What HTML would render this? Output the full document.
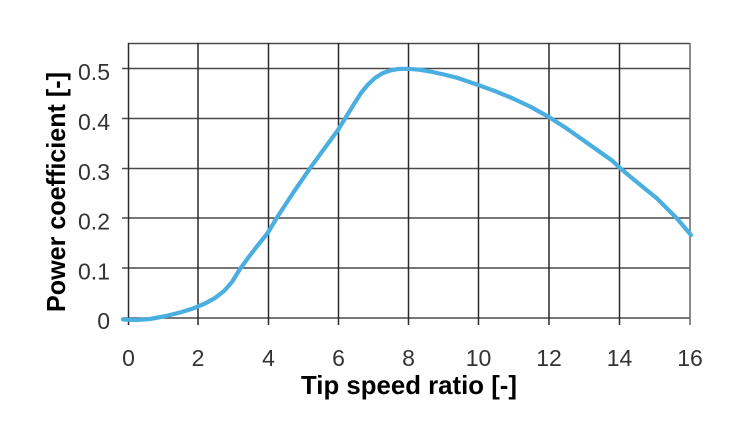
<!DOCTYPE html>
<html>
<head>
<meta charset="utf-8">
<style>
  html,body{margin:0;padding:0;background:#fff;}
  svg{display:block;}
  text{font-family:"Liberation Sans",sans-serif;}
</style>
</head>
<body>
<svg width="734" height="427" viewBox="0 0 734 427" xmlns="http://www.w3.org/2000/svg">
  <rect width="734" height="427" fill="#fff"/>
  <!-- horizontal grid -->
  <g stroke="#4a4a4a" stroke-width="1.6">
    <line x1="128" y1="43.5" x2="690" y2="43.5"/>
    <line x1="122" y1="68.5" x2="690" y2="68.5"/>
    <line x1="122" y1="118.5" x2="690" y2="118.5"/>
    <line x1="122" y1="168.5" x2="690" y2="168.5"/>
    <line x1="122" y1="218" x2="690" y2="218"/>
    <line x1="122" y1="268" x2="690" y2="268"/>
    <line x1="122" y1="318" x2="690" y2="318"/>
  </g>
  <!-- vertical grid -->
  <g stroke="#2a2a2a" stroke-width="1.5">
    <line x1="128.5" y1="43" x2="128.5" y2="325"/>
    <line x1="198" y1="43" x2="198" y2="325"/>
    <line x1="268.5" y1="43" x2="268.5" y2="325"/>
    <line x1="338.5" y1="43" x2="338.5" y2="325"/>
    <line x1="408.5" y1="43" x2="408.5" y2="325"/>
    <line x1="478.5" y1="43" x2="478.5" y2="325"/>
    <line x1="549" y1="43" x2="549" y2="325"/>
    <line x1="619.5" y1="43" x2="619.5" y2="325"/>
    <line x1="690" y1="43" x2="690" y2="325" stroke="#666"/>
  </g>
  <!-- curve -->
  <polyline fill="none" stroke="#4aaee0" stroke-width="4.2" stroke-linejoin="round" stroke-linecap="round"
    points="123,319.5 135,320 150,319 166,316 180,312.5 193,308.5 205,303.5 215,298 224,291 232,282 240,269 248,258 258,245 267.7,233 276.7,218 293,193 310,168.3 324,149 338,130 346,117 354,104 361,93 368,84.5 375,78 382,73.5 390,70.5 398,69 408,68.8 420,69.8 430,71.5 444,74.5 457,77.8 468,81.5 478.3,85 496,91.5 513,98.5 530,106.5 548,116.5 566,128 583,140 600,152 612,160.5 620,168 638,183 657,198.5 677,218.5 691,235"/>
  <!-- y tick labels -->
  <g font-size="23" fill="#333" text-anchor="end">
    <text x="110" y="80">0.5</text>
    <text x="110" y="130">0.4</text>
    <text x="110" y="180">0.3</text>
    <text x="110" y="229.5">0.2</text>
    <text x="110" y="279.5">0.1</text>
    <text x="110" y="329">0</text>
  </g>
  <!-- x tick labels -->
  <g font-size="23" fill="#333" text-anchor="middle">
    <text x="128.5" y="366">0</text>
    <text x="198" y="366">2</text>
    <text x="268.5" y="366">4</text>
    <text x="338.5" y="366">6</text>
    <text x="408.5" y="366">8</text>
    <text x="478.5" y="366">10</text>
    <text x="549" y="366">12</text>
    <text x="619.5" y="366">14</text>
    <text x="690" y="366">16</text>
  </g>
  <!-- axis titles -->
  <text x="301" y="394" font-size="26" font-weight="bold" fill="#000" textLength="216" lengthAdjust="spacingAndGlyphs">Tip speed ratio [-]</text>
  <text transform="translate(65,312) rotate(-90)" x="0" y="0" font-size="26" font-weight="bold" fill="#000" textLength="240" lengthAdjust="spacingAndGlyphs">Power coefficient [-]</text>
</svg>
</body>
</html>
